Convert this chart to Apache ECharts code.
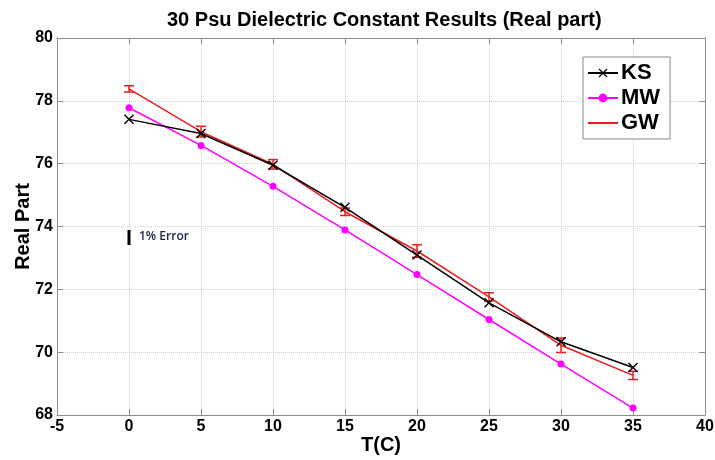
<!DOCTYPE html>
<html>
<head>
<meta charset="utf-8">
<script src="https://cdn.jsdelivr.net/npm/echarts@6/dist/echarts.min.js"></script>
<style>
  html, body { margin: 0; padding: 0; background: #fff; }
  #chart { width: 715px; height: 460px; }
</style>
</head>
<body>
<div id="chart"></div>
<script>
// temperatures (C)
const temps = [0, 5, 10, 15, 20, 25, 30, 35]
// real part of dielectric constant, per model
const ks = [77.41, 76.96, 75.95, 74.61, 73.09, 71.57, 70.33, 69.51]
const mw = [77.78, 76.58, 75.28, 73.89, 72.47, 71.04, 69.62, 68.22]
const gw = [78.38, 77.02, 75.98, 74.47, 73.22, 71.76, 70.22, 69.26]
// half height of the GW error bars
const gwErr = [0.1, 0.17, 0.15, 0.12, 0.2, 0.13, 0.23, 0.13]
// reference bar for "1% Error"
const refBar = [[0, 73.41], [0, 73.89]]
const xTicks = { min: -5, max: 40, interval: 5 }
const yTicks = { min: 68, max: 80, interval: 2 }

const font = '"Liberation Sans", Arial, sans-serif'
const xSymbol = 'path://M0,1 L1,0 L5,4 L9,0 L10,1 L6,5 L10,9 L9,10 L5,6 L1,10 L0,9 L4,5 Z'

const pairs = (ys) => temps.map((t, i) => [t, ys[i]])

const chart = echarts.init(document.getElementById('chart'))

const axisCommon = {
  type: 'value',
  axisLine: { show: true, onZero: false, lineStyle: { color: '#8c8c8c', width: 1 } },
  axisTick: { show: true, inside: true, length: 6, lineStyle: { color: '#8c8c8c' } },
  axisLabel: { color: '#000', fontFamily: font, fontWeight: 'bold', fontSize: 16 }
}
const nameStyle = { fontFamily: font, fontWeight: 'bold', fontSize: 20, color: '#000' }

chart.setOption({
  animation: false,
  title: {
    text: '30 Psu Dielectric Constant Results (Real part)',
    left: 162,
    top: 5,
    textStyle: { fontFamily: font, fontWeight: 'bold', fontSize: 20, color: '#000' }
  },
  grid: { left: 57, right: 10, top: 38, bottom: 45, outerBoundsMode: 'none' },
  legend: {
    data: [
      { name: 'KS' },
      { name: 'MW' },
      { name: 'GW', itemStyle: { color: 'rgba(0,0,0,0)', borderWidth: 0 } }
    ],
    orient: 'vertical',
    left: 583,
    top: 57,
    padding: [5, 10, 5, 4],
    itemGap: 3,
    itemWidth: 30,
    itemHeight: 11,
    backgroundColor: '#fff',
    borderColor: '#888',
    borderWidth: 1,
    borderRadius: 0,
    textStyle: { fontFamily: font, fontWeight: 'bold', fontSize: 22, color: '#000', padding: [0, 0, 0, -2] }
  },
  xAxis: [
    Object.assign({}, axisCommon, {
      min: xTicks.min, max: xTicks.max, interval: xTicks.interval,
      name: 'T(C)', nameLocation: 'middle', nameGap: 20, nameMoveOverlap: false,
      nameTextStyle: nameStyle,
      axisLabel: Object.assign({}, axisCommon.axisLabel, { margin: 4 }),
      splitLine: { show: true, lineStyle: { color: '#cfcfcf', type: 'dotted' } }
    }),
    Object.assign({}, axisCommon, {
      position: 'top',
      min: xTicks.min, max: xTicks.max, interval: xTicks.interval,
      axisLabel: { show: false },
      splitLine: { show: false }
    })
  ],
  yAxis: [
    Object.assign({}, axisCommon, {
      min: yTicks.min, max: yTicks.max, interval: yTicks.interval,
      name: 'Real Part', nameLocation: 'middle', nameGap: 24, nameMoveOverlap: false,
      nameTextStyle: nameStyle,
      axisLabel: Object.assign({}, axisCommon.axisLabel, { margin: 4 }),
      splitLine: { show: true, lineStyle: { color: '#cfcfcf', type: 'dotted' } }
    }),
    Object.assign({}, axisCommon, {
      position: 'right',
      min: yTicks.min, max: yTicks.max, interval: yTicks.interval,
      axisLabel: { show: false },
      splitLine: { show: false }
    })
  ],
  series: [
    {
      name: 'KS',
      type: 'line',
      data: pairs(ks),
      symbol: xSymbol,
      symbolSize: 10,
      z: 4,
      itemStyle: { color: '#000' },
      lineStyle: { color: '#000', width: 1.5 }
    },
    {
      name: 'MW',
      type: 'line',
      data: pairs(mw),
      symbol: 'circle',
      symbolSize: 7,
      z: 3,
      itemStyle: { color: '#ff00ff' },
      lineStyle: { color: '#ff00ff', width: 1.5 }
    },
    {
      name: 'GW',
      type: 'line',
      data: pairs(gw),
      symbol: 'none',
      z: 3,
      itemStyle: { color: '#ee1c1c' },
      lineStyle: { color: '#ee1c1c', width: 1.5 }
    },
    {
      name: 'GW error',
      type: 'custom',
      z: 3,
      data: temps.map((t, i) => [t, gw[i] - gwErr[i], gw[i] + gwErr[i]]),
      renderItem: (params, api) => {
        const lo = api.coord([api.value(0), api.value(1)])
        const hi = api.coord([api.value(0), api.value(2)])
        const w = 5
        const style = { stroke: '#ee1c1c', lineWidth: 1.5 }
        return {
          type: 'group',
          children: [
            { type: 'line', shape: { x1: lo[0], y1: lo[1], x2: hi[0], y2: hi[1] }, style },
            { type: 'line', shape: { x1: lo[0] - w, y1: lo[1], x2: lo[0] + w, y2: lo[1] }, style },
            { type: 'line', shape: { x1: hi[0] - w, y1: hi[1], x2: hi[0] + w, y2: hi[1] }, style }
          ]
        }
      }
    },
    {
      name: '1% Error',
      type: 'line',
      data: refBar,
      symbol: 'none',
      lineStyle: { color: '#000', width: 3 },
      endLabel: {
        show: true,
        formatter: '1% Error',
        offset: [2, 7],
        fontFamily: '"Open Sans", sans-serif',
        fontWeight: 600,
        fontSize: 12,
        color: '#1c2540'
      }
    }
  ]
})

window.addEventListener('resize', () => chart.resize())
</script>
</body>
</html>
